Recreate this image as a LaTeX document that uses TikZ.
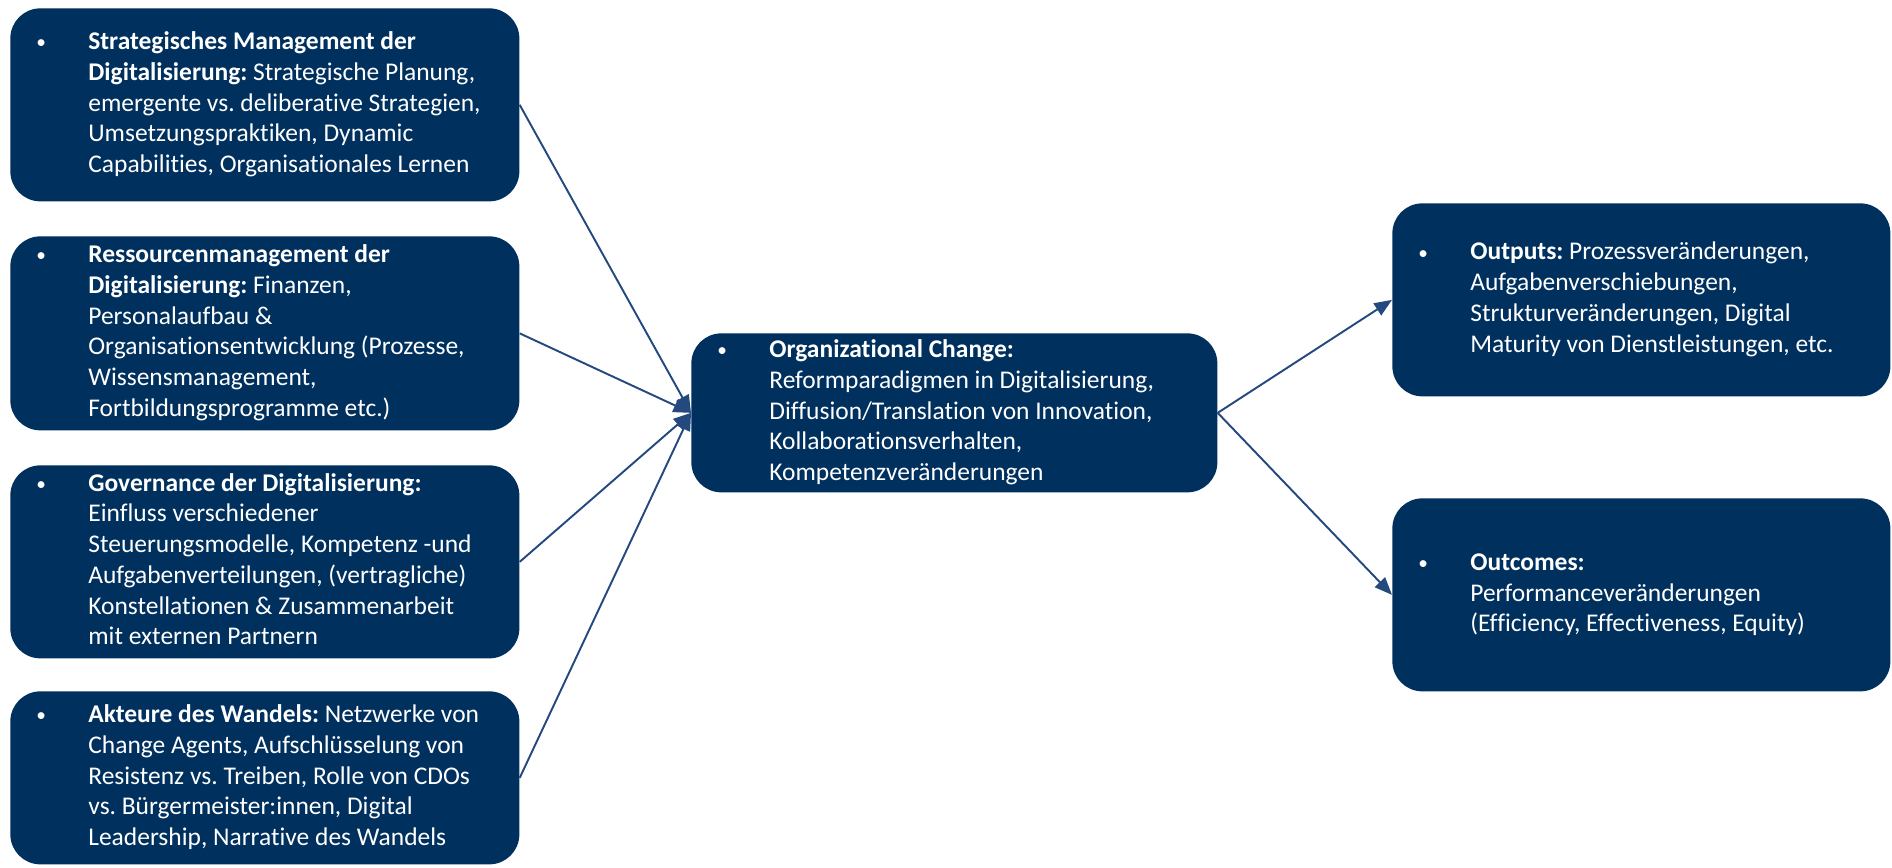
\documentclass[tikz,border=0pt]{standalone}
\usepackage{fontspec}
\setmainfont{Carlito}[Ligatures=NoCommon]
\usepackage{tikz}
\usepackage{xcolor}
\usetikzlibrary{arrows.meta}
\frenchspacing

\definecolor{boxblue}{HTML}{00305E}
\definecolor{lineblue}{HTML}{23497F}

% bullet column + left aligned lines of fixed width
\newcommand{\bulletlines}[2]{\makebox[1.04cm][l]{\raisebox{0.5pt}{\fontsize{11}{11}\selectfont\textbullet}}\makebox[#1][l]{\begin{tabular}[t]{@{}l@{}}#2\end{tabular}}}

\tikzset{
  topic/.style={rectangle, rounded corners=0.6cm, fill=boxblue, text=white,
    anchor=north west, inner xsep=0.52cm, inner ysep=0pt,
    font=\fontsize{14.5}{17.5}\selectfont},
  link/.style={draw=lineblue, line width=1.1pt, -{Triangle[length=10pt,width=8pt]}}
}

\begin{document}
\begin{tikzpicture}
  \useasboundingbox (0,0) rectangle (37.84,-17.34);

  % left column
  \node[topic, minimum width=10.18cm, minimum height=3.86cm] (strat) at (0.20,-0.16)
    {\bulletlines{8.1cm}{\textbf{Strategisches Management der}\\
      \textbf{Digitalisierung:} Strategische Planung,\\
      emergente vs. deliberative Strategien,\\
      Umsetzungspraktiken, Dynamic\\
      Capabilities, Organisationales Lernen}};
  \node[topic, minimum width=10.18cm, minimum height=3.88cm] (ress) at (0.20,-4.72)
    {\bulletlines{8.1cm}{\textbf{Ressourcenmanagement der}\\
      \textbf{Digitalisierung:} Finanzen,\\
      Personalaufbau \&\\
      Organisationsentwicklung (Prozesse,\\
      Wissensmanagement,\\
      Fortbildungsprogramme etc.)}};
  \node[topic, minimum width=10.18cm, minimum height=3.86cm] (gov) at (0.20,-9.30)
    {\bulletlines{8.1cm}{\textbf{Governance der Digitalisierung:}\\
      Einfluss verschiedener\\
      Steuerungsmodelle, Kompetenz -und\\
      Aufgabenverteilungen, (vertragliche)\\
      Konstellationen \& Zusammenarbeit\\
      mit externen Partnern}};
  \node[topic, minimum width=10.18cm, minimum height=3.46cm] (akt) at (0.20,-13.82)
    {\bulletlines{8.1cm}{\textbf{Akteure des Wandels:} Netzwerke von\\
      Change Agents, Aufschlüsselung von\\
      Resistenz vs. Treiben, Rolle von CDOs\\
      vs. Bürgermeister:innen, Digital\\
      Leadership, Narrative des Wandels}};

  % middle
  \node[topic, minimum width=10.52cm, minimum height=3.18cm] (change) at (13.82,-6.66)
    {\bulletlines{8.44cm}{\textbf{Organizational Change:}\\
      Reformparadigmen in Digitalisierung,\\
      Diffusion/Translation von Innovation,\\
      Kollaborationsverhalten,\\
      Kompetenzveränderungen}};

  % right column
  \node[topic, minimum width=9.96cm, minimum height=3.86cm] (outp) at (27.84,-4.06)
    {\bulletlines{7.88cm}{\textbf{Outputs:} Prozessveränderungen,\\
      Aufgabenverschiebungen,\\
      Strukturveränderungen, Digital\\
      Maturity von Dienstleistungen, etc.}};
  \node[topic, minimum width=9.96cm, minimum height=3.86cm] (outc) at (27.84,-9.96)
    {\bulletlines{7.88cm}{\textbf{Outcomes:}\\
      Performanceveränderungen\\
      (Efficiency, Effectiveness, Equity)}};

  \draw[link] (strat.east) -- (change.west);
  \draw[link] (ress.east) -- (change.west);
  \draw[link] (gov.east) -- (change.west);
  \draw[link] (akt.east) -- (change.west);
  \draw[link] (change.east) -- (outp.west);
  \draw[link] (change.east) -- (outc.west);
\end{tikzpicture}
\end{document}
